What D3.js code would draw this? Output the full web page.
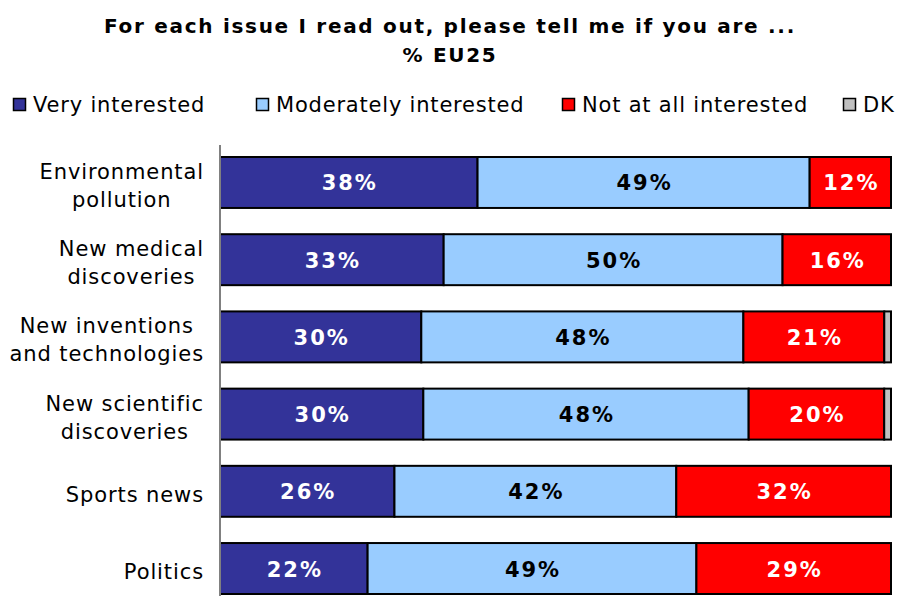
<!DOCTYPE html>
<html>
<head>
<meta charset="utf-8">
<script src="https://cdn.jsdelivr.net/npm/d3@7"></script>
<style>
  body { margin: 0; background: #fff; }
  text { font-family: Verdana, "DejaVu Sans", sans-serif; }
</style>
</head>
<body>
<div id="chart"></div>
<script>
const categories = [
  ["Environmental", "pollution"],
  ["New medical", "discoveries"],
  ["New inventions", "and technologies"],
  ["New scientific", "discoveries"],
  ["Sports news"],
  ["Politics"]
];
const seriesNames = ["Very interested", "Moderately interested", "Not at all interested", "DK"];
const veryInterested = [38, 33, 30, 30, 26, 22];
const moderatelyInterested = [49, 50, 48, 48, 42, 49];
const notInterested = [12, 16, 21, 20, 32, 29];
const dontKnow = [0, 0, 1, 1, 0, 0];
const colors = ["#333399", "#99ccff", "#ff0000", "#c0c0c0"];
const labelColors = ["#fff", "#000", "#fff", "#000"];

const width = 901, height = 596;
const svg = d3.select("#chart").append("svg")
  .attr("width", width)
  .attr("height", height);

// title
[["For each issue I read out, please tell me if you are ...", 33], ["% EU25", 62]].forEach(([t, ty]) => {
  svg.append("text")
    .attr("x", 450).attr("y", ty)
    .attr("text-anchor", "middle")
    .style("font-size", "20px").style("font-weight", "bold")
    .style("letter-spacing", "1.7px")
    .text(t);
});

// legend
const legendX = [13, 256, 562, 843];
const legend = svg.selectAll(".legend")
  .data(seriesNames)
  .enter().append("g")
  .attr("transform", (d, i) => `translate(${legendX[i]},98)`);
legend.append("rect")
  .attr("x", 0.5).attr("y", 0.5)
  .attr("width", 12).attr("height", 12)
  .attr("fill", (d, i) => colors[i])
  .attr("stroke", "#000").attr("stroke-width", 1.5);
legend.append("text")
  .attr("x", 20).attr("y", 14)
  .style("font-size", "21px")
  .style("letter-spacing", "0.8px")
  .text(d => d);

// stacked data
const rows = categories.map((c, i) => {
  const vals = [veryInterested[i], moderatelyInterested[i], notInterested[i], dontKnow[i]];
  return { cat: i, vals, total: d3.sum(vals) };
});

const x = d3.scaleLinear().domain([0, 1]).range([220, 891]);
const y = d3.scaleBand()
  .domain(d3.range(categories.length))
  .range([157, 594])
  .paddingInner(0.34)
  .paddingOuter(0);

rows.forEach(r => {
  let acc = 0;
  const segs = r.vals.map((v, k) => {
    const s = { k, v, x0: acc / r.total, x1: (acc + v) / r.total };
    acc += v;
    return s;
  });
  const g = svg.append("g");
  g.selectAll("rect")
    .data(segs.filter(s => s.v > 0))
    .enter().append("rect")
    .attr("x", s => x(s.x0))
    .attr("y", y(r.cat))
    .attr("width", s => x(s.x1) - x(s.x0))
    .attr("height", y.bandwidth())
    .attr("fill", s => colors[s.k])
    .attr("stroke", "#000")
    .attr("stroke-width", 2);
  g.selectAll("text")
    .data(segs.filter(s => s.v >= 5))
    .enter().append("text")
    .attr("x", s => (x(s.x0) + x(s.x1)) / 2 + 1)
    .attr("y", y(r.cat) + y.bandwidth() / 2 + 8)
    .attr("text-anchor", "middle")
    .style("font-size", "21px").style("font-weight", "bold")
    .style("letter-spacing", "2px")
    .attr("fill", s => labelColors[s.k])
    .text(s => s.v + "%");
});

// axis line
svg.append("line")
  .attr("x1", 220).attr("x2", 220)
  .attr("y1", 145).attr("y2", 596)
  .attr("stroke", "#808080").attr("stroke-width", 2);

// category labels: lines centred on each other, block right aligned
categories.forEach((lines, i) => {
  const cy = y(i) + y.bandwidth() / 2;
  const t = svg.append("text")
    .attr("text-anchor", "middle")
    .style("font-size", "21px")
    .style("letter-spacing", "0.9px")
    .attr("fill", "#000");
  const spans = lines.map((ln, j) => t.append("tspan")
    .attr("y", cy + 10.5 + (j - (lines.length - 1) / 2) * 28)
    .text(ln));
  const maxW = d3.max(spans, s => s.node().getComputedTextLength());
  spans.forEach(s => s.attr("x", 204 - maxW / 2));
});
</script>
</body>
</html>
